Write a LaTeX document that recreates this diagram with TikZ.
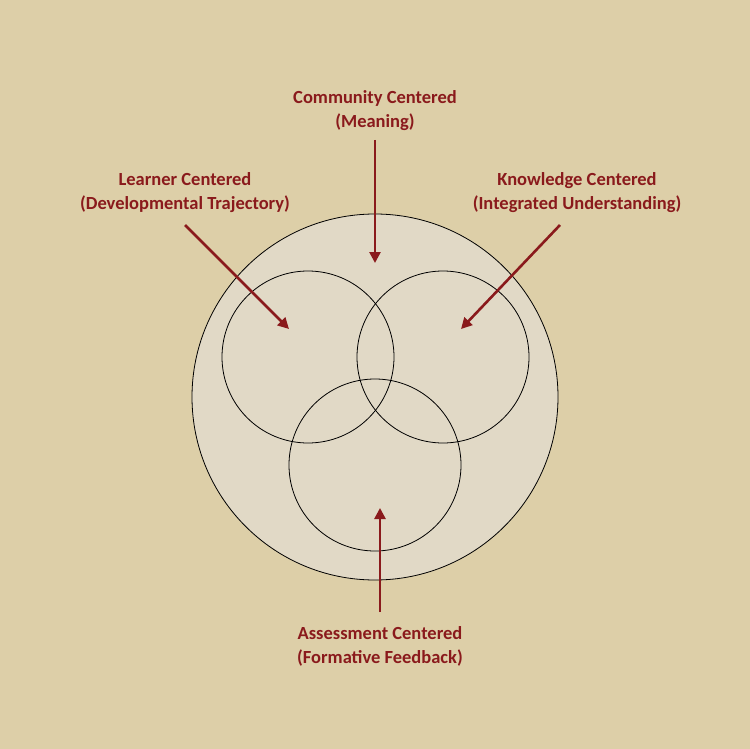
\documentclass[tikz,border=0pt]{standalone}
\usepackage{fontspec}
\setmainfont{Carlito}
\usetikzlibrary{arrows.meta}
\definecolor{bg}{HTML}{DDCFA8}
\definecolor{disk}{HTML}{E1D9C6}
\definecolor{dred}{HTML}{8A1A1C}
\tikzset{
  lbl/.style={text=dred,font=\bfseries\fontsize{18.5}{24}\selectfont,align=center},
  arr/.style={draw=dred,line width=2.6pt,-{Triangle[length=11pt,width=11pt]}},
  ring/.style={draw=black,line width=0.8pt}
}
\begin{document}
\begin{tikzpicture}[x=1pt,y=-1pt]
\fill[bg] (0,0) rectangle (750,749);
\useasboundingbox (0,0) rectangle (750,749);
\node[circle,ring,fill=disk,minimum size=366pt,inner sep=0] (big) at (375,397) {};
\node[circle,ring,minimum size=172pt,inner sep=0] (cl) at (308,357) {};
\node[circle,ring,minimum size=172pt,inner sep=0] (cr) at (443,357) {};
\node[circle,ring,minimum size=172pt,inner sep=0] (cb) at (375,465) {};
\node[lbl] (comm) at (375,111) {Community Centered\\(Meaning)};
\node[lbl] (lear) at (185,193) {Learner Centered\\(Developmental Trajectory)};
\node[lbl] (know) at (577,193) {Knowledge Centered\\(Integrated Understanding)};
\node[lbl] (asse) at (380,646) {Assessment Centered\\(Formative Feedback)};
\coordinate (tc) at (375,263);
\coordinate (tl) at (289,329);
\coordinate (tk) at (461,329);
\coordinate (ta) at (380,508);
\draw[arr] (375,140) -- (tc);
\draw[arr] (185,225) -- (tl);
\draw[arr] (560,225) -- (tk);
\draw[arr] (380,612) -- (ta);
\end{tikzpicture}
\end{document}
